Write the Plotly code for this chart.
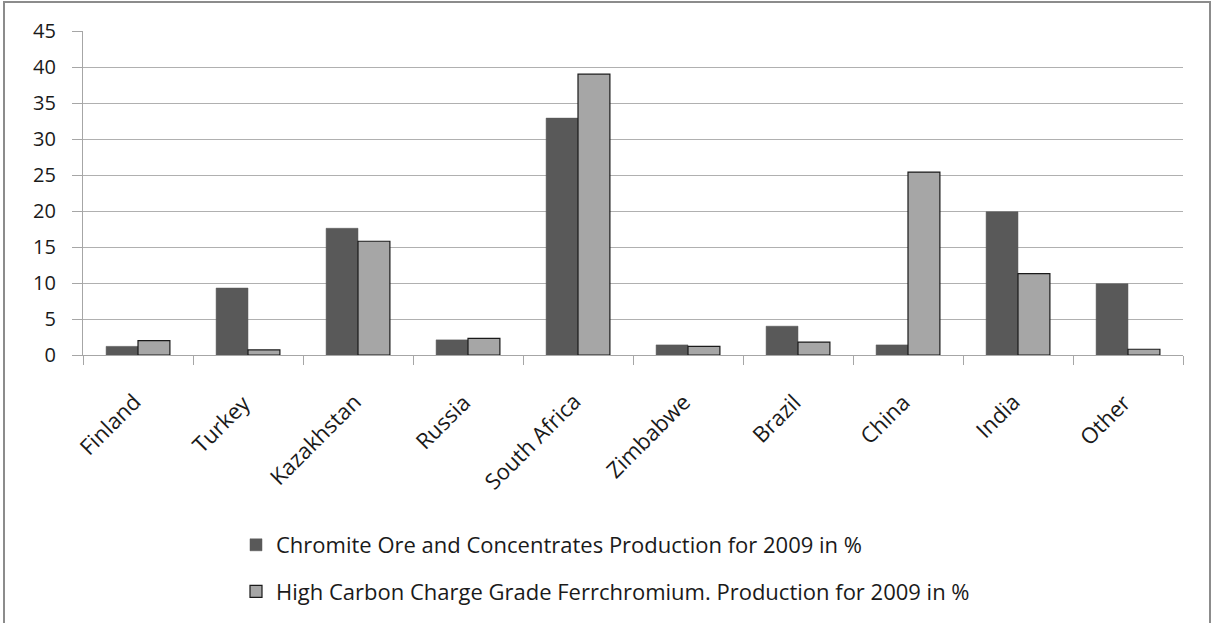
import plotly.graph_objects as go

# Share of world production in 2009, by country (%)
countries = ["Finland", "Turkey", "Kazakhstan", "Russia", "South Africa",
             "Zimbabwe", "Brazil", "China", "India", "Other"]
chromite_ore = [1.2, 9.3, 17.6, 2.1, 32.9, 1.4, 4.0, 1.4, 19.9, 9.9]
ferrochromium = [2.0, 0.7, 15.8, 2.3, 39.0, 1.2, 1.8, 25.4, 11.3, 0.8]
y_ticks = [0, 5, 10, 15, 20, 25, 30, 35, 40, 45]

series_names = [
    "Chromite Ore and Concentrates Production for 2009 in %",
    "High Carbon Charge Grade Ferrchromium. Production for 2009 in %",
]

FONT = "'Open Sans', Lato, sans-serif"
TEXT = "#1a1a1a"
AXIS_GREY = "#a6a6a6"
W, H = 1212, 623
L, R, T, B = 83, 29, 31, 268
plot_w, plot_h = W - L - R, H - T - B

fig = go.Figure()
fig.add_trace(go.Bar(
    x=countries, y=chromite_ore, name=series_names[0],
    marker=dict(color="#595959", line=dict(color="#595959", width=0.5)),
    legendgroup="a",
))
fig.add_trace(go.Bar(
    x=countries, y=ferrochromium, name=series_names[1],
    marker=dict(color="#a6a6a6", line=dict(color="#1a1a1a", width=1.2)),
    legendgroup="b",
))

# rotated category labels under the axis
for name in countries:
    fig.add_annotation(
        x=name, y=0, xref="x", yref="y",
        text=name, textangle=-45, showarrow=False,
        xanchor="right", yanchor="top", xshift=11, yshift=-29,
        font=dict(family=FONT, size=22, color=TEXT),
    )

# outer chart frame (open at the bottom edge of the window)
def px_to_paper_x(px):
    return (px - L) / plot_w

def px_to_paper_y(py):
    return (H - B - py) / plot_h

fig.add_shape(type="rect", xref="paper", yref="paper",
              x0=px_to_paper_x(4), x1=px_to_paper_x(1210),
              y0=px_to_paper_y(640), y1=px_to_paper_y(2),
              line=dict(color="#8c8c8c", width=2), fillcolor="rgba(0,0,0,0)",
              layer="below")

fig.update_layout(
    width=W, height=H,
    margin=dict(l=L, r=R, t=T, b=B, pad=0, autoexpand=False),
    paper_bgcolor="white", plot_bgcolor="white",
    barmode="group", bargap=0.42, bargroupgap=0.0,
    font=dict(family=FONT, size=20, color=TEXT),
    xaxis=dict(
        type="category", showticklabels=False,
        range=[-0.5, len(countries) - 0.5], autorange=False,
        ticks="outside", tickson="boundaries", ticklen=9,
        tickcolor=AXIS_GREY, tickwidth=1.2,
        showline=True, linecolor=AXIS_GREY, linewidth=1.2,
        showgrid=False,
    ),
    yaxis=dict(
        range=[0, 45], autorange=False,
        tickvals=y_ticks, ticktext=[str(v) for v in y_ticks],
        ticks="outside", ticklen=10, tickcolor=AXIS_GREY, tickwidth=1.2,
        showline=True, linecolor=AXIS_GREY, linewidth=1.2,
        showgrid=True, gridcolor="#b0b0b0", gridwidth=1.2,
        zeroline=False, tickfont=dict(size=20, family=FONT, color=TEXT),
        ticklabelstandoff=12,
    ),
    legend=dict(
        orientation="v", xref="container", yref="container",
        x=236 / W, y=1 - 524 / H, xanchor="left", yanchor="top",
        traceorder="grouped", tracegroupgap=15,
        font=dict(size=22, family=FONT, color=TEXT),
        itemwidth=30, bgcolor="rgba(0,0,0,0)",
    ),
    showlegend=True,
)

fig.write_html("out.html")
